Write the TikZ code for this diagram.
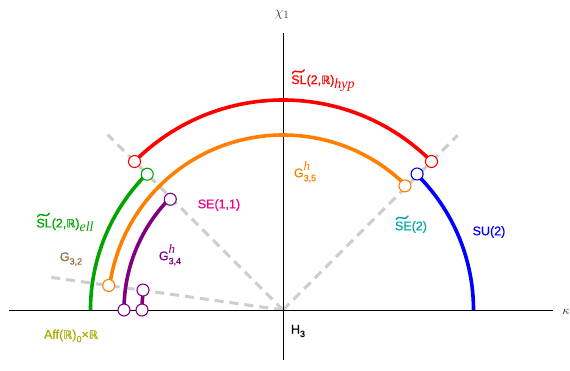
\documentclass[tikz,border=0pt]{standalone}
\usepackage{amsmath,amssymb}
\usepackage{fontspec}
\setmainfont{Liberation Sans}[FakeBold=0.7]
\newfontfamily\tms{Liberation Serif}
\newfontfamily\dv{DejaVu Sans}[FakeBold=0.5]
\newcommand{\RR}{{\dv\fontsize{11.5}{12}\selectfont ℝ}}
\newcommand{\lowsub}[1]{\raisebox{-3.5pt}{\fontsize{9}{9}\selectfont #1}}
\newcommand{\itsub}[1]{\raisebox{-4pt}{\fontsize{14}{14}\tms\itshape #1}}
\newcommand{\Gsh}[1]{G\makebox[0pt][l]{\raisebox{6.5pt}{\fontsize{13}{13}\tms\itshape h}}\raisebox{-4pt}{\fontsize{9}{9}\selectfont #1}}
\definecolor{cgreen}{RGB}{0,165,0}
\definecolor{corange}{RGB}{255,128,0}
\definecolor{cpurple}{RGB}{128,0,128}
\definecolor{cbrown}{RGB}{150,110,70}
\definecolor{cteal}{RGB}{0,165,165}
\definecolor{colive}{RGB}{170,170,0}
\definecolor{cdash}{RGB}{205,205,205}
\tikzset{
  arcline/.style={line width=3.6pt},
  oc/.style={circle,draw=#1,fill=white,line width=1.1pt,minimum size=12pt,inner sep=0pt},
  dashray/.style={cdash,line width=3pt,dash pattern=on 9pt off 6pt},
  lbl/.style={inner sep=0pt,font=\fontsize{12.5}{14}\selectfont},
  tildemark/.style={line width=1.4pt,line cap=round},
}
\newcommand{\tildeon}[2]{%
  \draw[tildemark,#2] ($(#1.base west)+(1.2,10.6)$) .. controls +(2.2,3.2) and +(-2.2,0.4) .. ($(#1.base west)+(7,12.4)$)
     .. controls +(2.2,-0.4) and +(-2.2,-3.2) .. ($(#1.base west)+(13.2,14.2)$);}
\usetikzlibrary{calc}
\begin{document}
\begin{tikzpicture}[x=1pt,y=1pt]
\useasboundingbox (-283,-61) rectangle (287,310);
\coordinate (O) at (0,0);
\coordinate (d1) at (135:248);
\coordinate (d2) at (45:247);
\coordinate (d3) at (172:240);
\coordinate (xl) at (-274,0);
\coordinate (xr) at (270,0);
\coordinate (yt) at (0,277);
\coordinate (yb) at (0,-50);
% dashed rays
\draw[dashray] (O) -- (d1);
\draw[dashray] (O) -- (d2);
\draw[dashray] (O) -- (d3);
% axes
\draw[line width=0.9pt] (xl) -- (xr);
\draw[line width=0.9pt] (yb) -- (yt);
% arcs
\draw[arcline,red] (45:210) arc (45:135:210);
\draw[arcline,blue] (0:190.5) arc (0:45:190.5);
\draw[arcline,cgreen] (135:192.5) arc (135:180:192.5);
\draw[arcline,corange] (45:175) arc (45:172:175);
\draw[arcline,cpurple] (135:159) arc (135:180:159);
\draw[arcline,cpurple] (172:141) arc (172:180:141);
% open circles
\node[oc=red] (r1) at (45:210) {};
\node[oc=red] (r2) at (135:210) {};
\node[oc=blue] (b1) at (45.4:191) {};
\node[oc=cgreen] (g1) at (135:192) {};
\node[oc=corange] (o1) at (45.5:174) {};
\node[oc=corange] (o2) at (172:176) {};
\node[oc=cpurple] (p1) at (135.5:158) {};
\node[oc=cpurple] (p2) at (180:159) {};
\node[oc=cpurple] (p3) at (180:141) {};
\node[oc=cpurple] (p4) at (171.9:141.4) {};
% labels
\node[inner sep=0pt,text=black!75,font=\fontsize{15}{16}\selectfont] (chi) at (-1,295) {$\chi_1$};
\node[inner sep=0pt,font=\fontsize{13}{14}\selectfont] (kap) at (283,-2) {$\kappa$};
\node[lbl,text=red] (slh) at (40,227) {SL(2,\RR)\itsub{hyp}};
\node[lbl,text=cgreen] (sle) at (-218,85) {SL(2,\RR)\itsub{ell}};
\node[lbl,text=cbrown] (g32) at (-212,51) {G\lowsub{3,2}};
\node[lbl,text=colive] (aff) at (-212,-26) {Aff(\RR)\lowsub{0}×\RR};
\node[lbl,text=cpurple] (g34) at (-113,55) {\Gsh{3,4}};
\node[lbl,text=magenta] (se11) at (-64,105) {SE(1,1)};
\node[lbl,text=corange] (g35) at (22,138) {\Gsh{3,5}};
\node[lbl,text=cteal] (se2) at (128,83) {SE(2)};
\node[lbl,text=blue] (su2) at (206,78) {SU(2)};
\node[lbl,text=black] (h3) at (15,-21) {H\lowsub{3}};
\tildeon{slh}{red}
\tildeon{sle}{cgreen}
\tildeon{se2}{cteal}
\end{tikzpicture}
\end{document}
